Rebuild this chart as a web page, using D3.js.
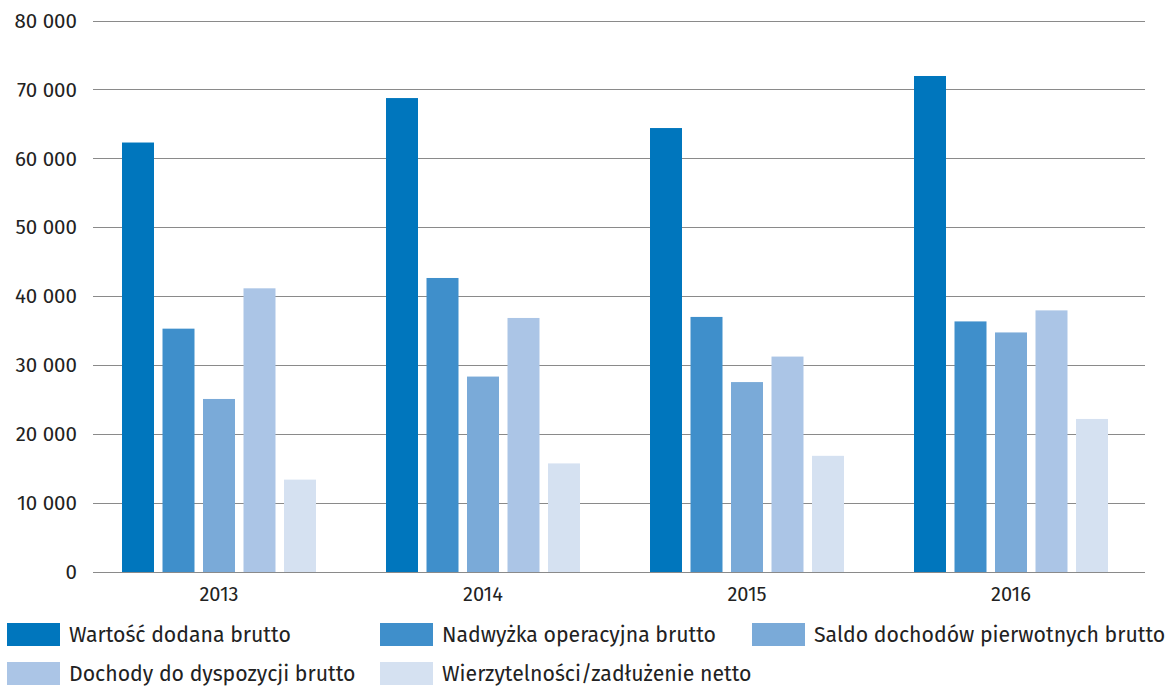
<!DOCTYPE html>
<html><head><meta charset="utf-8">
<script src="https://cdn.jsdelivr.net/npm/d3@7"></script>
<style>body{margin:0;background:#fff}text{font-family:"Fira Sans","Open Sans","Noto Sans",sans-serif;fill:#222}</style>
</head><body><svg id="c" width="1167" height="686"></svg>
<script>
const years = ["2013","2014","2015","2016"];
const seriesNames = ["Wartość dodana brutto","Nadwyżka operacyjna brutto","Saldo dochodów pierwotnych brutto","Dochody do dyspozycji brutto","Wierzytelności/zadłużenie netto"];
const wartosc = [62300, 68750, 64400, 71950];
const nadwyzka = [35300, 42650, 37000, 36350];
const saldo = [25100, 28350, 27550, 34750];
const dochody = [41150, 36850, 31250, 37950];
const wierzyt = [13400, 15750, 16850, 22200];
const colors = ["#0076bd","#3f8fcb","#7aaad8","#abc5e6","#d5e1f1"];
const yTicks = [0,10000,20000,30000,40000,50000,60000,70000,80000];

const seriesValues = [wartosc, nadwyzka, saldo, dochody, wierzyt];
const svg = d3.select("#c");
const y = d3.scaleLinear().domain([0,80000]).range([572,20.5]);
const x0 = d3.scaleBand().domain(years).range([87,1143]).paddingInner(0.233).paddingOuter(0.1165);
const x1 = d3.scaleBand().domain(d3.range(5)).range([0,x0.bandwidth()]).paddingInner(0.21).paddingOuter(0.105);
const fmt = v => d3.format(",")(v).replace(/,/g," ");

// gridlines
const gx = d3.scaleLinear().domain([0,1]).range([93,1145]);
svg.append("g").selectAll("line").data(yTicks).join("line")
  .attr("x1",gx(0)).attr("x2",gx(1))
  .attr("y1",d=>Math.round(y(d))+0.5).attr("y2",d=>Math.round(y(d))+0.5)
  .attr("stroke","#8a8a8a").attr("stroke-width",1.2);

// y labels
svg.append("g").selectAll("text").data(yTicks).join("text")
  .attr("x",77).attr("y",d=>y(d)).attr("dy","0.35em").attr("text-anchor","end")
  .style("font-size","20.5px").text(fmt);

// bars
const g = svg.append("g").selectAll("g").data(years).join("g")
  .attr("transform",d=>`translate(${x0(d)},0)`);
g.selectAll("rect").data((d,i)=>seriesValues.map((s,k)=>({k,v:s[i]}))).join("rect")
  .attr("x",d=>x1(d.k)).attr("width",x1.bandwidth())
  .attr("y",d=>y(d.v)).attr("height",d=>y(0)-y(d.v))
  .attr("fill",d=>colors[d.k]);

// x labels
svg.append("g").selectAll("text").data(years).join("text")
  .attr("x",d=>x0(d)+x0.bandwidth()/2).attr("y",594).attr("dy","0.35em")
  .attr("text-anchor","middle").style("font-size","20px").text(d=>d);

// legend
const legPos = [[7,623],[380,623],[752,623],[7,662],[380,662]];
const lg = svg.append("g").selectAll("g").data(seriesNames).join("g")
  .attr("transform",(d,i)=>`translate(${legPos[i][0]},${legPos[i][1]})`);
lg.append("rect").attr("width",53).attr("height",23).attr("fill",(d,i)=>colors[i]);
lg.append("text").attr("x",62).attr("y",12).attr("dy","0.35em").style("font-size","21.25px").text(d=>d);
</script></body></html>
